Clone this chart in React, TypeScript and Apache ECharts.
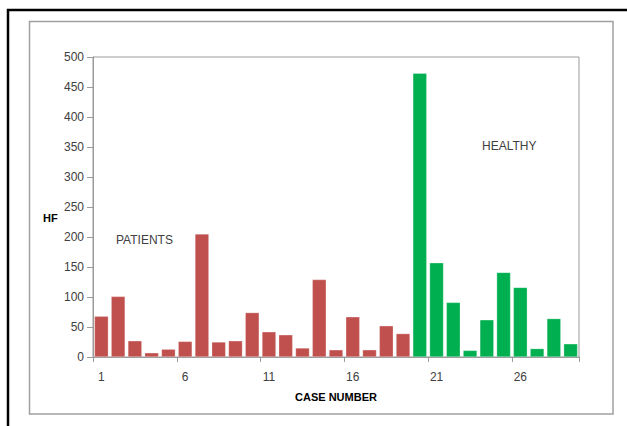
import React, { useEffect, useRef } from "react";
import * as echarts from "echarts";

const caseNumbers: string[] = Array.from({ length: 29 }, (_, i) => String(i + 1));
const patientsHF: number[] = [68, 101, 27, 7, 13, 26, 205, 25, 27, 74, 42, 37, 15, 129, 12, 67, 12, 52, 39];
const healthyHF: number[] = [473, 157, 91, 11, 62, 141, 116, 14, 64, 22];
const yMin = 0;
const yMax = 500;
const yStep = 50;

const RED = "#C0504D";
const GREEN = "#00B050";
const FONT = "'Liberation Sans', Arial, sans-serif";

export default function App() {
  const ref = useRef<HTMLDivElement>(null);
  useEffect(() => {
    document.body.style.margin = "0";
    if (!ref.current) return;
    const chart = echarts.init(ref.current, null, { renderer: "svg" });
    const data = [
      ...patientsHF.map((v) => ({ value: v, itemStyle: { color: RED } })),
      ...healthyHF.map((v) => ({ value: v, itemStyle: { color: GREEN } })),
    ];
    chart.setOption({
      animation: false,
      backgroundColor: "#fff",
      grid: {
        left: 93,
        top: 57,
        right: 48,
        bottom: 69,
        show: true,
        borderColor: "#9a9a9a",
        borderWidth: 1,
        backgroundColor: "transparent",
      },
      xAxis: {
        type: "category",
        data: caseNumbers,
        axisLine: { lineStyle: { color: "#9a9a9a", width: 1 } },
        axisTick: { show: true, interval: 4, length: 5, lineStyle: { color: "#9a9a9a" }, alignWithLabel: false },
        axisLabel: { interval: 4, margin: 14, color: "#404040", fontSize: 12, fontFamily: FONT },
        splitLine: { show: false },
      },
      yAxis: {
        type: "value",
        min: yMin,
        max: yMax,
        interval: yStep,
        axisLine: { show: true, lineStyle: { color: "#9a9a9a", width: 1 } },
        axisTick: { show: true, length: 6, lineStyle: { color: "#9a9a9a" } },
        axisLabel: { margin: 9, color: "#404040", fontSize: 12, fontFamily: FONT },
        splitLine: { show: false },
      },
      series: [
        {
          type: "bar",
          data,
          barCategoryGap: "17%",
          itemStyle: { borderColor: "rgba(255,255,255,0.5)", borderWidth: 0.5 },
        },
      ],
      graphic: [
        {
          type: "rect",
          shape: { x: 8, y: 10, width: 660, height: 460 },
          style: { fill: "none", stroke: "#000", lineWidth: 2.5 },
          silent: true,
        },
        {
          type: "rect",
          shape: { x: 29.5, y: 21.5, width: 583.5, height: 392.5 },
          style: { fill: "none", stroke: "#a0a0a0", lineWidth: 1.5 },
          silent: true,
        },
        {
          type: "text",
          x: 43,
          y: 218,
          style: { text: "HF", font: `bold 11px ${FONT}`, fill: "#000", verticalAlign: "middle" },
        },
        {
          type: "text",
          x: 336,
          y: 397,
          style: { text: "CASE NUMBER", font: `bold 11px ${FONT}`, fill: "#000", align: "center", verticalAlign: "middle" },
        },
        {
          type: "text",
          x: 116,
          y: 240,
          style: { text: "PATIENTS", font: `12px ${FONT}`, fill: "#404040", verticalAlign: "middle" },
        },
        {
          type: "text",
          x: 482,
          y: 146,
          style: { text: "HEALTHY", font: `12px ${FONT}`, fill: "#404040", verticalAlign: "middle" },
        },
      ],
    });
    return () => chart.dispose();
  }, []);
  return <div ref={ref} style={{ position: "fixed", left: 0, top: 0, width: 627, height: 426 }} />;
}
